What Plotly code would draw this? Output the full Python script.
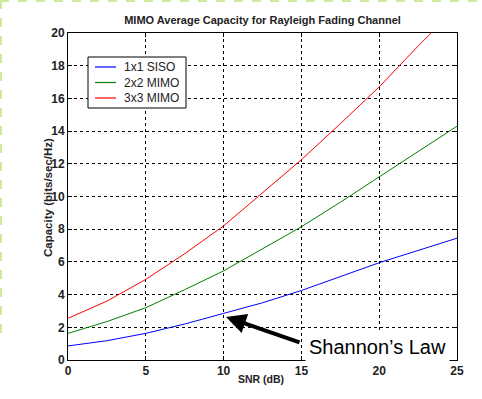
import plotly.graph_objects as go

snr_db = [0, 2.5, 5, 7.5, 10, 12.5, 15, 17.5, 20, 22.5, 25]
siso_1x1 = [0.86, 1.18, 1.63, 2.2, 2.85, 3.5, 4.25, 5.1, 5.95, 6.7, 7.45]
mimo_2x2 = [1.63, 2.35, 3.2, 4.3, 5.45, 6.8, 8.15, 9.65, 11.2, 12.75, 14.3]
mimo_3x3 = [2.55, 3.6, 4.93, 6.5, 8.2, 10.2, 12.25, 14.45, 16.7, 19.2, 21.6]
series_names = ["1x1 SISO", "2x2 MIMO", "3x3 MIMO"]
series_colors = ["rgb(0,0,255)", "rgb(0,128,0)", "rgb(255,0,0)"]
x_ticks = [0, 5, 10, 15, 20, 25]
y_ticks = [0, 2, 4, 6, 8, 10, 12, 14, 16, 18, 20]

W, H = 482, 399
L, R, T, B = 68, 25, 33, 39
pw, ph = W - L - R, H - T - B

def px_x(p):
    return (p - L) / pw

def px_y(p):
    return (H - B - p) / ph

fig = go.Figure()
for vals, name, col in zip([siso_1x1, mimo_2x2, mimo_3x3], series_names, series_colors):
    fig.add_trace(go.Scatter(x=snr_db, y=vals, mode="lines", name=name,
                             line=dict(color=col, width=1), showlegend=False))

axis_common = dict(
    showline=True, linecolor="black", linewidth=1, mirror="ticks",
    ticks="inside", ticklen=4, tickcolor="black",
    showgrid=True, gridcolor="black", griddash="dot", gridwidth=1,
    zeroline=False,
    tickfont=dict(family="Liberation Sans", size=12, color="#222", weight="bold"),
)

fig.update_layout(
    width=W, height=H,
    margin=dict(l=L, r=R, t=T, b=B),
    paper_bgcolor="white", plot_bgcolor="white",
    title=dict(text="MIMO Average Capacity for Rayleigh Fading Channel",
               font=dict(family="Liberation Sans", size=11, color="#222", weight="bold"),
               x=262.5 / W, xanchor="center",
               y=1 - 20 / H, yanchor="middle", xref="container", yref="container"),
    xaxis=dict(range=[0, 25], tickvals=x_ticks, **axis_common),
    yaxis=dict(range=[0, 20], tickvals=y_ticks, **axis_common),
    showlegend=False,
)

# hand-drawn legend box (matches the MATLAB-style compact legend)
fig.add_shape(type="rect", xref="paper", yref="paper",
              x0=px_x(88), x1=px_x(186), y0=px_y(108), y1=px_y(57),
              line=dict(color="black", width=1), fillcolor="white", layer="above")
legend_rows_px = [67, 82.5, 98]
for name, col, ypx in zip(series_names, series_colors, legend_rows_px):
    yy = px_y(ypx)
    fig.add_shape(type="line", xref="paper", yref="paper",
                  x0=px_x(95), x1=px_x(116), y0=yy, y1=yy,
                  line=dict(color=col, width=1.2), layer="above")
    fig.add_annotation(text=name, xref="paper", yref="paper",
                       x=px_x(122), y=yy, xanchor="left", yanchor="middle",
                       showarrow=False,
                       font=dict(family="Liberation Sans", size=12, color="#222"))

# axis titles
fig.add_annotation(text="SNR (dB)", xref="paper", yref="paper",
                   x=px_x(261), y=px_y(387), showarrow=False,
                   font=dict(family="Liberation Sans", size=10.5, color="#222", weight="bold"))
fig.add_annotation(text="Capacity (bits/sec/Hz)", xref="paper", yref="paper",
                   x=px_x(40), y=px_y(198), showarrow=False, textangle=-90,
                   font=dict(family="Liberation Sans", size=11.5, color="#222", weight="bold"))

# Shannon's Law callout
fig.add_annotation(text="Shannon\u2019s Law", xref="x", yref="y",
                   x=(377.5 - L) / pw * 25, y=(H - B - 347) / ph * 20,
                   showarrow=False, bgcolor="white", borderpad=3,
                   font=dict(family="Liberation Sans", size=20, color="black"))
fig.add_annotation(text="", xref="x", yref="y", axref="x", ayref="y",
                   x=(226 - L) / pw * 25, y=(H - B - 317) / ph * 20,
                   ax=(301 - L) / pw * 25, ay=(H - B - 343) / ph * 20,
                   showarrow=True, arrowhead=2, arrowsize=1, arrowwidth=4,
                   arrowcolor="black")

# light green dashed page border (top and left)
fig.add_shape(type="line", xref="paper", yref="paper",
              x0=px_x(0), x1=px_x(W), y0=px_y(1), y1=px_y(1),
              line=dict(color="#cdeb9a", width=2, dash="dash"))
fig.add_shape(type="line", xref="paper", yref="paper",
              x0=px_x(1), x1=px_x(1), y0=px_y(0), y1=px_y(340),
              line=dict(color="#cdeb9a", width=2, dash="dash"))

fig.write_html("out.html",
               config={"displayModeBar": False},
               post_script="document.body.style.margin='0';"
                           "document.body.style.overflow='hidden';")
